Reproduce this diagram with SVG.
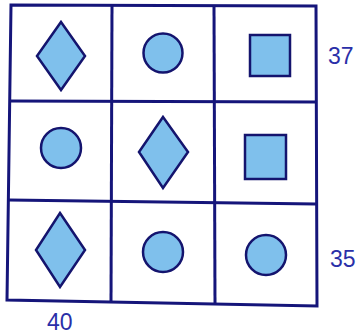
<svg xmlns="http://www.w3.org/2000/svg" width="361" height="335" viewBox="0 0 361 335">
<style>
.grid{fill:none;stroke:#15157a;stroke-width:3;stroke-linejoin:miter}
.shape{fill:#7fc0ec;stroke:#14146e;stroke-width:2.5;stroke-linejoin:miter}
.num{font-family:"Liberation Sans",Arial,sans-serif;font-size:23px;fill:#2a2fa8}
</style>
<rect width="361" height="335" fill="#ffffff"/>
<g id="connectors">
<path class="grid" d="M11 5 L316 6 L317 306 L7 300 Z"/>
<line class="grid" x1="112" y1="5" x2="111" y2="302"/>
<line class="grid" x1="214" y1="6" x2="215" y2="304"/>
<line class="grid" x1="10" y1="101" x2="316" y2="102"/>
<line class="grid" x1="9" y1="200" x2="316" y2="204"/>
</g>
<g id="r1c1"><polygon class="shape" points="61,22 85,56 61,90 37,56"/></g>
<g id="r1c2"><circle class="shape" cx="163" cy="53" r="19.5"/></g>
<g id="r1c3"><rect class="shape" x="250" y="35" width="40" height="41"/></g>
<g id="r2c1"><circle class="shape" cx="61" cy="148" r="20"/></g>
<g id="r2c2"><polygon class="shape" points="163,117 188,152 163,188 139,152"/></g>
<g id="r2c3"><rect class="shape" x="245" y="135" width="41" height="44"/></g>
<g id="r3c1"><polygon class="shape" points="60,213 85,250 60,287 36,250"/></g>
<g id="r3c2"><circle class="shape" cx="163" cy="252" r="20"/></g>
<g id="r3c3"><circle class="shape" cx="266" cy="255" r="20"/></g>
<g id="labels">
<text class="num" x="328" y="64">37</text>
<text class="num" x="330" y="267">35</text>
<text class="num" x="47" y="330">40</text>
</g>
</svg>
